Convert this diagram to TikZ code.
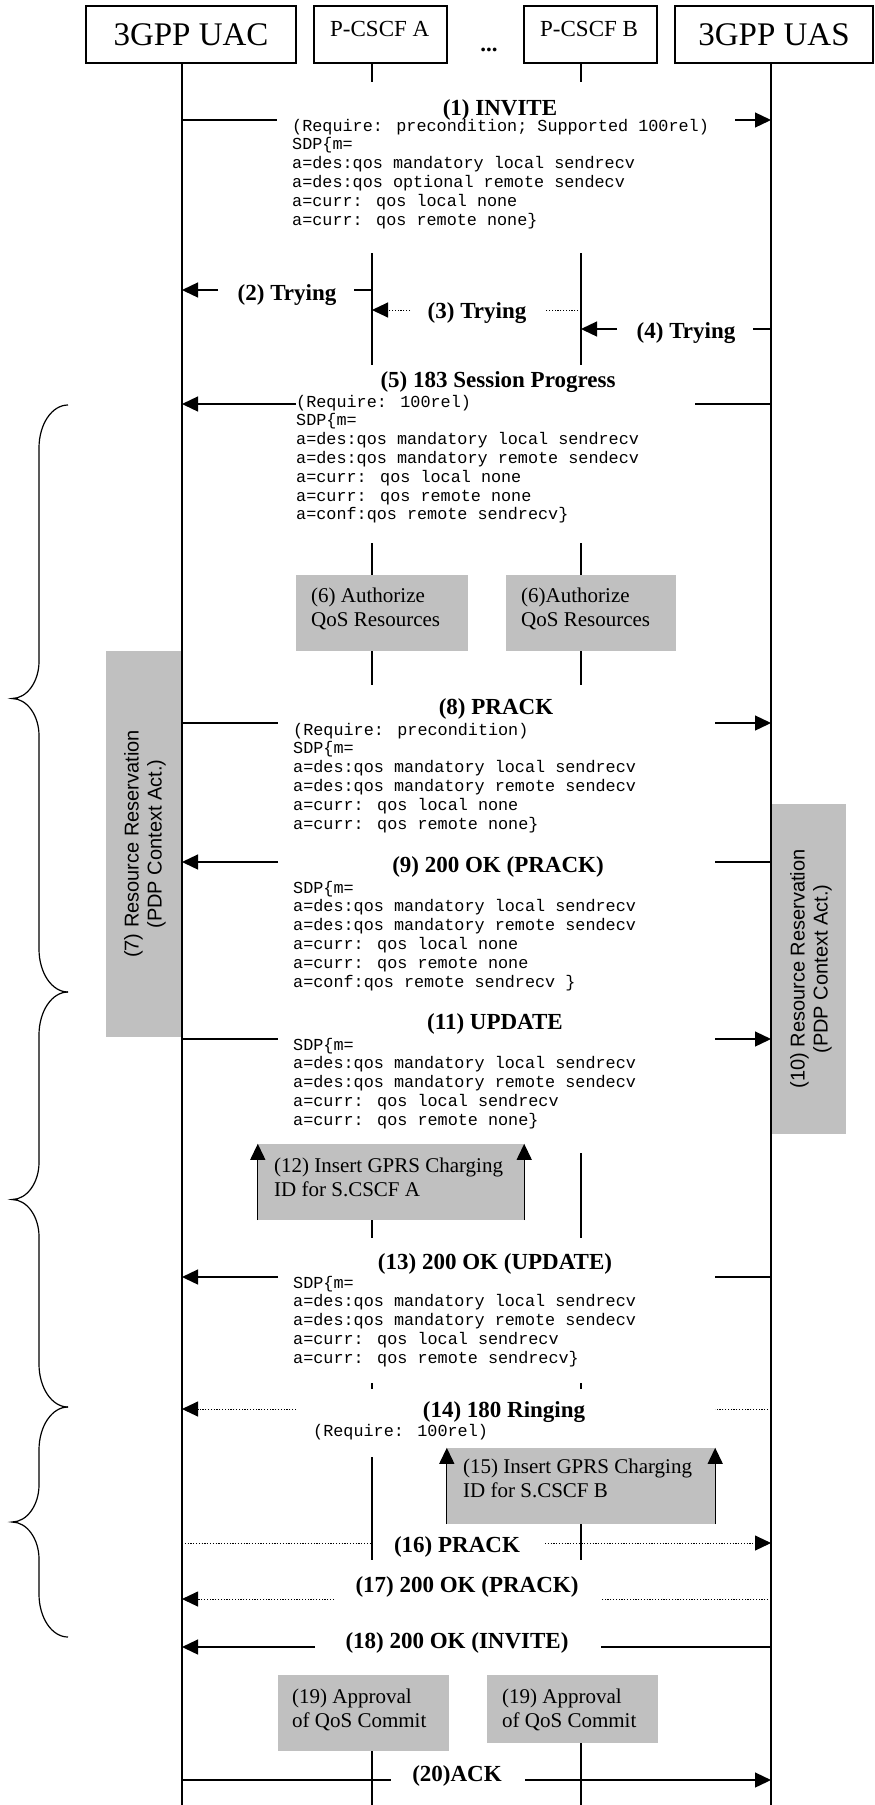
\documentclass[tikz,border=0pt]{standalone}
\usepackage{fontspec}
\setmainfont{Liberation Serif}
\newfontfamily\monof{Liberation Mono}
\newfontfamily\sansf{Liberation Sans}
\usetikzlibrary{arrows.meta}
\definecolor{boxgray}{RGB}{192,192,192}

\tikzset{
  msgtip/.tip={Triangle[length=16pt,width=15pt]},
  actorbox/.style={draw, line width=1.8pt, inner sep=0pt},
  gbox/.style={fill=boxgray, inner sep=0pt},
  msgline/.style={line width=1.3pt},
  dotline/.style={line width=1pt, dash pattern=on 1.2pt off 1.6pt},
  uline/.style={line width=1.8pt},
  pline/.style={line width=1.3pt},
  bracestyle/.style={line width=1.2pt},
  msgtitle/.style={font=\fontsize{23}{26}\selectfont\bfseries, inner sep=0pt, anchor=base},
  sdp/.style={font=\monof\fontsize{16.8}{18.8}\selectfont, inner sep=0pt, anchor=north west, align=left},
  boxtext/.style={font=\fontsize{21}{24}\selectfont, inner sep=0pt, anchor=north west, align=left},
  sidetext/.style={font=\sansf\fontsize{20}{23}\selectfont, rotate=90, align=center, inner sep=0pt},
}

% message: name, y, start x, gap start x, gap end x, end x, line style
\newcommand\sipmsg[7]{%
  \coordinate (#1s) at (#3,#2);
  \coordinate (#1a) at (#4,#2);
  \coordinate (#1b) at (#5,#2);
  \coordinate (#1e) at (#6,#2);
  \draw[#7] (#1s) -- (#1a);
  \draw[#7,-msgtip] (#1b) -- (#1e);
}
% lifeline piece: name, x, top y, bottom y, style
\newcommand\lifeseg[5]{%
  \coordinate (#1t) at (#2,#3);
  \coordinate (#1b) at (#2,#4);
  \draw[#5] (#1t) -- (#1b);
}

\begin{document}
\begin{tikzpicture}[x=1pt,y=-1pt]
\useasboundingbox (0,0) rectangle (875,1805);

% ---------- shaded action boxes ----------
\node[gbox, minimum width=76pt, minimum height=386pt] (b7) at (144,844) {};
\node[gbox, minimum width=75pt, minimum height=330pt] (b10) at (808.5,969) {};
\node[gbox, minimum width=172pt, minimum height=76pt] (b6a) at (382,613) {};
\node[gbox, minimum width=170pt, minimum height=76pt] (b6b) at (591,613) {};
\node[gbox, minimum width=266pt, minimum height=76pt] (b12) at (391,1182) {};
\node[gbox, minimum width=268pt, minimum height=76pt] (b15) at (581,1486) {};
\node[gbox, minimum width=171pt, minimum height=76pt] (b19a) at (363.5,1713) {};
\node[gbox, minimum width=171pt, minimum height=68pt] (b19b) at (572.5,1709) {};

% ---------- header ----------
\node[actorbox, minimum width=210pt, minimum height=57pt, font=\fontsize{33}{36}\selectfont] (uac) at (191,34.5) {3GPP UAC};
\node[actorbox, minimum width=198pt, minimum height=57pt, font=\fontsize{33}{36}\selectfont] (uas) at (774,34.5) {3GPP UAS};
\node[actorbox, minimum width=133pt, minimum height=57pt] (pa) at (380.5,34.5) {};
\node[actorbox, minimum width=133pt, minimum height=57pt] (pb) at (590.5,34.5) {};
\node[font=\fontsize{23}{26}\selectfont, anchor=base west, inner sep=0pt] (patext) at (330,36) {P-CSCF A};
\node[font=\fontsize{23}{26}\selectfont, anchor=base west, inner sep=0pt] (pbtext) at (540,36) {P-CSCF B};
\node[font=\fontsize{23}{26}\selectfont\bfseries, anchor=base, inner sep=0pt] (dots) at (489,51) {...};

% ---------- lifelines ----------
\lifeseg{uacl}{182}{63}{1805}{uline}
\lifeseg{uasl}{771}{63}{1805}{uline}
\lifeseg{pa1}{372}{63}{82}{pline}
\lifeseg{pa2}{372}{253}{365}{pline}
\lifeseg{pa3}{372}{543}{575}{pline}
\lifeseg{pa4}{372}{651}{685}{pline}
\lifeseg{pa5}{372}{1220}{1238}{pline}
\lifeseg{pa6}{372}{1383}{1389}{pline}
\lifeseg{pa7}{372}{1457}{1560}{pline}
\lifeseg{pa8}{372}{1751}{1805}{pline}
\lifeseg{pb1}{581}{63}{82}{pline}
\lifeseg{pb2}{581}{253}{365}{pline}
\lifeseg{pb3}{581}{543}{575}{pline}
\lifeseg{pb4}{581}{651}{685}{pline}
\lifeseg{pb5}{581}{1153}{1238}{pline}
\lifeseg{pb6}{581}{1383}{1389}{pline}
\lifeseg{pb7}{581}{1524}{1560}{pline}
\lifeseg{pb8}{581}{1743}{1805}{pline}

% ---------- braces on the left ----------
\foreach \ya/\yb in {405/992,992/1407,1407/1637}{
  \pgfmathsetmacro\ym{(\ya+\yb)/2}
  \draw[bracestyle] (68,\ya) .. controls (52,\ya) and (39,\ya+19) .. (39,\ya+43)
     -- (39,\ym-37) .. controls (39,\ym-17) and (27,\ym) .. (12,\ym)
     .. controls (27,\ym) and (39,\ym+17) .. (39,\ym+37)
     -- (39,\yb-43) .. controls (39,\yb-19) and (52,\yb) .. (68,\yb);
}

% ---------- messages ----------
\sipmsg{m1}{120}{182}{277}{735}{771}{msgline}
\sipmsg{m2}{290}{372}{354}{218}{182}{msgline}
\sipmsg{m3}{310}{581}{545}{410}{372}{dotline}
\sipmsg{m4}{329}{771}{753}{617}{581}{msgline}
\sipmsg{m5}{404}{771}{695}{296}{182}{msgline}
\sipmsg{m8}{723}{182}{278}{715}{771}{msgline}
\sipmsg{m9}{862}{771}{715}{278}{182}{msgline}
\sipmsg{m11}{1039}{182}{278}{715}{771}{msgline}
\sipmsg{m13}{1277}{771}{715}{278}{182}{msgline}
\sipmsg{m14}{1409}{771}{715}{296}{182}{dotline}
\sipmsg{m16}{1543}{182}{372}{545}{771}{dotline}
\sipmsg{m17}{1599}{771}{601}{334}{182}{dotline}
\sipmsg{m18}{1647}{771}{601}{315}{182}{msgline}
\sipmsg{m20}{1780}{182}{391}{525}{771}{msgline}

% box sides with upward arrows
\draw[msgline,-msgtip] (b12.south west) -- (b12.north west);
\draw[msgline,-msgtip] (b12.south east) -- (b12.north east);
\draw[msgline,-msgtip] (b15.south west) -- (b15.north west);
\draw[msgline,-msgtip] (b15.south east) -- (b15.north east);

% ---------- message titles ----------
\node[msgtitle] (t1) at (500,115) {(1) INVITE};
\node[msgtitle] (t2) at (287,300) {(2) Trying};
\node[msgtitle] (t3) at (477,318) {(3) Trying};
\node[msgtitle] (t4) at (686,338) {(4) Trying};
\node[msgtitle] (t5) at (498,387) {(5) 183 Session Progress};
\node[msgtitle] (t8) at (496,714) {(8) PRACK};
\node[msgtitle] (t9) at (498,872) {(9) 200 OK (PRACK)};
\node[msgtitle] (t11) at (495,1029) {(11) UPDATE};
\node[msgtitle] (t13) at (495,1269) {(13) 200 OK (UPDATE)};
\node[msgtitle] (t14) at (504,1417) {(14) 180 Ringing};
\node[msgtitle] (t16) at (457,1552) {(16) PRACK};
\node[msgtitle] (t17) at (467,1592) {(17) 200 OK (PRACK)};
\node[msgtitle] (t18) at (457,1648) {(18) 200 OK (INVITE)};
\node[msgtitle] (t20) at (457,1781) {(20)ACK};

% ---------- SDP bodies ----------
\node[sdp] (s1) at (292,117.8) {\strut(Require: precondition; Supported 100rel)\\SDP\{m=\\a=des:qos mandatory local sendrecv\\a=des:qos optional remote sendecv\\a=curr: qos local none\\a=curr: qos remote none\}};
\node[sdp] (s5) at (296,393.8) {\strut(Require: 100rel)\\SDP\{m=\\a=des:qos mandatory local sendrecv\\a=des:qos mandatory remote sendecv\\a=curr: qos local none\\a=curr: qos remote none\\a=conf:qos remote sendrecv\}};
\node[sdp] (s8) at (293,721.8) {\strut(Require: precondition)\\SDP\{m=\\a=des:qos mandatory local sendrecv\\a=des:qos mandatory remote sendecv\\a=curr: qos local none\\a=curr: qos remote none\}};
\node[sdp] (s9) at (293,879.8) {\strut SDP\{m=\\a=des:qos mandatory local sendrecv\\a=des:qos mandatory remote sendecv\\a=curr: qos local none\\a=curr: qos remote none\\a=conf:qos remote sendrecv \}};
\node[sdp] (s11) at (293,1036.8) {\strut SDP\{m=\\a=des:qos mandatory local sendrecv\\a=des:qos mandatory remote sendecv\\a=curr: qos local sendrecv\\a=curr: qos remote none\}};
\node[sdp] (s13) at (293,1274.8) {\strut SDP\{m=\\a=des:qos mandatory local sendrecv\\a=des:qos mandatory remote sendecv\\a=curr: qos local sendrecv\\a=curr: qos remote sendrecv\}};
\node[sdp, anchor=base west] (s14) at (313,1436) {(Require: 100rel)};

% ---------- box labels ----------
\node[boxtext] (l6a) at (311,585.2) {\strut(6) Authorize\\QoS Resources};
\node[boxtext] (l6b) at (521,585.2) {\strut(6)Authorize\\QoS Resources};
\node[boxtext] (l12) at (274,1155.2) {\strut(12) Insert GPRS Charging\\ID for S.CSCF A};
\node[boxtext] (l15) at (463,1456.2) {\strut(15) Insert GPRS Charging\\ID for S.CSCF B};
\node[boxtext] (l19a) at (292,1686.2) {\strut(19) Approval\\of QoS Commit};
\node[boxtext] (l19b) at (502,1686.2) {\strut(19) Approval\\of QoS Commit};
\node[sidetext] (l7) at (145,844) {(7) Resource Reservation\\(PDP Context Act.)};
\node[sidetext] (l10) at (811,969) {(10) Resource Reservation\\(PDP Context Act.)};

\end{tikzpicture}
\end{document}
